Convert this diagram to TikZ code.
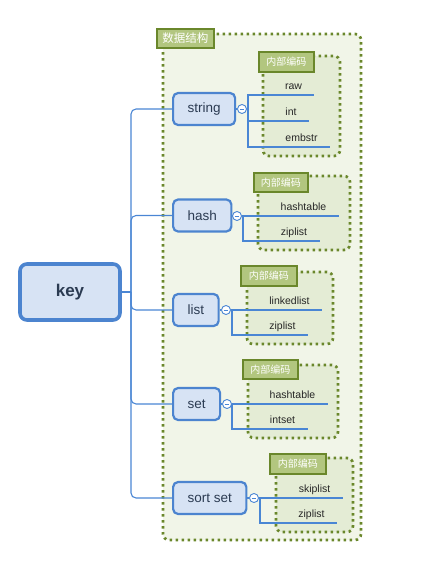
\documentclass[tikz,border=0pt]{standalone}
\usepackage{fontspec}
\setmainfont{Liberation Sans}
\newfontfamily\cjk{Noto Sans CJK SC}
\definecolor{outerfill}{HTML}{F1F5E8}
\definecolor{grpfill}{HTML}{E4ECD5}
\definecolor{olive}{HTML}{6A872B}
\definecolor{lblfill}{HTML}{B2C67F}
\definecolor{nodefill}{HTML}{D7E3F4}
\definecolor{nodeline}{HTML}{4C84CF}
\definecolor{lncol}{HTML}{4A86D4}
\definecolor{txtcol}{HTML}{2B3B52}
\tikzset{
  outerbox/.style={fill=outerfill, draw=olive, line width=2.7pt, dash pattern=on 2.5pt off 3.5pt, rounded corners=6pt},
  grpbox/.style={fill=grpfill, draw=olive, line width=2.7pt, dash pattern=on 2.5pt off 3.5pt, rounded corners=6pt},
  glabel/.style={fill=lblfill, draw=olive, line width=2.8pt, text=white, inner sep=0pt, anchor=north west, font=\cjk\fontsize{10}{12}\selectfont},
  brnode/.style={fill=nodefill, draw=nodeline, line width=2.2pt, rounded corners=5pt, text=txtcol, font=\fontsize{13.5}{16}\selectfont, inner xsep=14.5pt, minimum height=32pt, anchor=west},
  keynode/.style={fill=nodefill, draw=nodeline, line width=3.6pt, rounded corners=7pt, text=txtcol, font=\bfseries\fontsize{17}{20}\selectfont, minimum width=100pt, minimum height=56pt},
  coll/.style={circle, draw=lncol, fill=white, line width=0.9pt, minimum size=9pt, inner sep=0pt, path picture={\draw[lncol, line width=0.9pt] ([xshift=-2.3pt]path picture bounding box.center) -- ([xshift=2.3pt]path picture bounding box.center);}},
  subitem/.style={inner sep=0pt, text height=8pt, text depth=5.5pt, anchor=south, text=black!85, font=\fontsize{10.5}{12}\selectfont},
  uline/.style={draw=lncol, line width=2.8pt},
  ln/.style={draw=lncol, line width=1.1pt},
}
\begin{document}
\begin{tikzpicture}[x=1pt,y=-1pt]
\useasboundingbox (0,0) rectangle (421,565);
% outer container
\draw[outerbox] (163,34) rectangle (361,540);
% inner groups
\draw[grpbox] (263,56) rectangle (340,156);
\draw[grpbox] (258,176) rectangle (350,250);
\draw[grpbox] (247,272) rectangle (333,344);
\draw[grpbox] (248,365) rectangle (338,438);
\draw[grpbox] (276,458) rectangle (353,532);
% labels
\node[glabel, minimum width=57pt, minimum height=19pt, font=\cjk\fontsize{11.5}{13}\selectfont] (lblOuter) at (155.5,27.5) {数据结构};
\node[glabel, minimum width=55pt, minimum height=20pt] (lblS) at (257.5,50.5) {内部编码};
\node[glabel, minimum width=54pt, minimum height=19pt] (lblH) at (252.5,171.5) {内部编码};
\node[glabel, minimum width=56pt, minimum height=20pt] (lblL) at (239.5,264.5) {内部编码};
\node[glabel, minimum width=55pt, minimum height=19pt] (lblT) at (241.5,358.5) {内部编码};
\node[glabel, minimum width=56pt, minimum height=20pt] (lblZ) at (268.5,452.5) {内部编码};
% key
\node[keynode] (key) at (70,292) {key};
\coordinate (tj) at (131,292);
% branch nodes
\node[brnode] (string) at (172,109) {string};
\node[brnode] (hash) at (172,215.5) {hash};
\node[brnode] (list) at (172,310) {list};
\node[brnode] (set) at (172,404) {set};
\node[brnode] (sortset) at (172,498) {sort set};
% trunk
\draw[ln] (key.east) -- (tj);
\foreach \n in {string,hash,list,set,sortset}{
  \draw[ln, rounded corners=5pt] (tj) |- (\n.west);
}
% collapse circles
\node[coll] (cS) at (242,109) {};
\node[coll] (cH) at (237,216) {};
\node[coll] (cL) at (226,310) {};
\node[coll] (cT) at (227,404) {};
\node[coll] (cZ) at (254,498) {};
\coordinate (vS) at (248,109);
\coordinate (vH) at (243,216);
\coordinate (vL) at (232,310);
\coordinate (vT) at (232,404);
\coordinate (vZ) at (260,498);
% sub items
\node[subitem, minimum width=41pt] (raw) at (293.5,95) {raw};
\node[subitem, minimum width=36pt] (int) at (291,121) {int};
\node[subitem, minimum width=57pt] (embstr) at (301.5,147) {embstr};
\node[subitem, minimum width=71pt] (hhash) at (303.5,216) {hashtable};
\node[subitem, minimum width=52pt] (hzip) at (294,241) {ziplist};
\node[subitem, minimum width=65pt] (llink) at (289.5,310) {linkedlist};
\node[subitem, minimum width=51pt] (lzip) at (282.5,335) {ziplist};
\node[subitem, minimum width=71pt] (thash) at (292.5,404) {hashtable};
\node[subitem, minimum width=51pt] (tint) at (282.5,429) {intset};
\node[subitem, minimum width=57pt] (zskip) at (314.5,498) {skiplist};
\node[subitem, minimum width=51pt] (zzip) at (311.5,523) {ziplist};
% connectors from nodes to circles to items
\draw[ln] (string.east) -- (cS.west);
\draw[ln] (hash.east) -- (cH.west);
\draw[ln] (list.east) -- (cL.west);
\draw[ln] (set.east) -- (cT.west);
\draw[ln] (sortset.east) -- (cZ.west);
\draw[ln] (cS.east) -- (vS);
\draw[ln] (cH.east) -- (vH);
\draw[ln] (cL.east) -- (vL);
\draw[ln] (cT.east) -- (vT);
\draw[ln] (cZ.east) -- (vZ);
\foreach \v/\i in {vS/raw,vS/int,vS/embstr,vH/hhash,vH/hzip,vL/llink,vL/lzip,vT/thash,vT/tint,vZ/zskip,vZ/zzip}{
  \draw[ln] (\v) |- (\i.south west);
  \draw[uline] (\i.south west) -- (\i.south east);
}
\end{tikzpicture}
\end{document}
